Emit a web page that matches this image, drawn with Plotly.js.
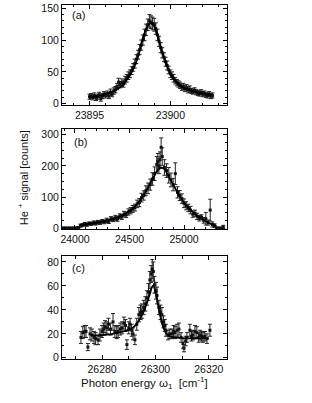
<!DOCTYPE html>
<html><head><meta charset="utf-8">
<script src="https://cdn.plot.ly/plotly-3.0.1.min.js"></script>
<style>html,body{margin:0;padding:0;background:#fff}#plot{width:312px;height:403px}</style>
</head><body><div id="plot"></div>
<script>
// Panel (a)
const aX = [23895.0,23895.1,23895.2,23895.3,23895.4,23895.5,23895.6,23895.7,23895.8,23895.9,
23896.0,23896.1,23896.2,23896.3,23896.4,23896.5,23896.6,23896.7,23896.8,23896.9,
23897.0,23897.1,23897.2,23897.3,23897.4,23897.5,23897.6,23897.7,23897.8,23897.9,
23898.0,23898.1,23898.2,23898.3,23898.4,23898.5,23898.6,23898.7,23898.8,23898.9,
23899.0,23899.1,23899.2,23899.3,23899.4,23899.5,23899.6,23899.7,23899.8,23899.9,
23900.0,23900.1,23900.2,23900.3,23900.4,23900.5,23900.6,23900.7,23900.8,23900.9,
23901.0,23901.1,23901.2,23901.3,23901.4,23901.5,23901.6,23901.7,23901.8,23901.9,
23902.0,23902.1,23902.2,23902.3,23902.4,23902.5,23902.6];
const aY = [11,12,10,13,9,11,14,8,12,15,
13,16,12,18,15,20,22,27,34,30,
33,31,37,40,44,47,52,57,63,70,
77,85,92,100,108,116,124,130,128,126,
124,118,108,98,88,80,73,66,60,53,
47,44,40,36,33,31,29,26,27,24,
25,22,23,20,19,21,18,17,16,18,
15,16,14,13,15,12,13];
const aErr = [4,4,4,4,4,4,4,4,4,4,
4,4,4,5,4,5,5,5,6,5,
6,5,6,6,6,6,6,6,7,7,
7,8,8,8,9,9,9,10,10,10,
10,9,9,8,8,8,7,7,7,6,
6,6,6,5,5,5,5,5,5,5,
5,5,5,4,4,4,4,4,4,4,
4,4,4,4,4,4,4];
const aFitX = [23895.0,23895.5,23896.0,23896.5,23897.0,23897.5,23897.75,23898.0,23898.25,23898.5,23898.75,23899.0,23899.25,23899.5,23899.75,23900.0,23900.25,23900.5,23900.75,23901.0,23901.5,23902.0,23902.5];
const aFitY = [10,12,15,20,28,45,57,74,98,117,127,122,103,80,62,47,38,31,26,23,19,16,14];

// Panel (b)
const bX = [23890,23910,23930,23950,23970,23990,24010,24030,
24050,24070,24090,24110,24130,24150,24170,24190,24210,24230,
24250,24270,24290,24310,24330,24350,24370,24390,24410,24430,
24450,24470,24490,24510,24530,24550,24570,24590,24610,24630,
24650,24670,24690,24710,24730,24750,
24760,24770,24780,24790,24800,
24820,24840,24860,24880,24900,24920,24940,24960,24980,25000,
25020,25040,25060,25080,25100,25120,25140,25160,25180,25200,
25220,25240,25260,25280,25300,25320,25340,25360];
const bY = [0,0,0,0,0,0,0,2,
8,10,13,11,15,14,17,16,19,18,
22,20,25,22,30,28,33,30,38,36,
45,43,52,56,62,66,78,82,98,105,
120,128,140,158,175,205,
215,200,220,260,230,
195,185,170,155,140,175,115,105,95,80,
72,65,58,45,48,38,32,35,25,30,
18,58,12,8,0,0,0,4];
const bErr = [3,3,3,3,3,3,3,3,
5,5,5,5,5,5,6,6,6,6,
6,6,7,7,7,7,8,8,8,8,
9,9,10,10,11,11,12,13,14,15,
16,17,18,20,22,25,
25,25,25,30,28,
25,22,25,22,20,35,18,16,15,14,
13,12,12,10,10,10,9,8,9,20,
8,35,8,6,3,3,3,5];
const bFitX = [24050,24100,24200,24300,24400,24450,24500,24550,24600,24650,24700,24750,24775,24800,24825,24850,24900,24950,25000,25050,25100,25150,25200,25250,25300];
const bFitY = [8,12,18,24,35,44,55,70,90,118,150,182,192,194,188,172,140,108,82,62,46,33,22,13,6];

// Panel (c)
const cX = [26272.1,26272.8,26273.5,26274.0,26274.7,26275.5,26276.2,26277.0,26277.6,26278.5,
26279.2,26280.0,26280.6,26281.1,26281.8,26282.4,26283.2,26284.1,26284.8,26285.5,
26286.0,26286.8,26287.5,26288.2,26288.8,26289.3,26290.0,26290.5,26291.1,26291.6,
26292.3,26293.0,26293.8,26294.4,26294.9,26295.6,26296.2,26296.8,26297.4,26297.9,
26298.4,26298.8,26299.2,26299.6,26300.2,26300.6,26301.3,26301.9,26302.4,26303.0,
26303.5,26303.9,26304.7,26305.4,26306.2,26306.8,26307.3,26308.1,26308.8,26309.6,
26310.3,26310.7,26311.3,26311.8,26312.9,26313.5,26314.0,26314.8,26315.5,26316.2,
26316.7,26317.3,26317.8,26318.5,26319.3,26320.4];
const cY = [17,21,22,22,9,20,19,17,16,15,
19,22,24,26,25,28,24,30,22,21,
22,24,25,29,27,11,25,28,23,20,
15,28,36,38,39,42,45,50,55,65,
70,74,72,61,56,52,42,38,36,30,
27,23,19,20,20,22,21,23,24,17,
12,8,14,17,23,18,19,22,21,17,
19,18,17,18,16,23];
const cErr = [5,5,5,5,3,5,5,5,5,4,
5,5,5,5,5,5,5,7,5,5,
5,5,5,5,5,4,5,5,5,5,
4,5,6,6,6,6,6,6,7,7,
7,8,8,7,7,7,6,6,6,5,
5,5,4,4,4,5,5,5,5,4,
4,3,4,4,5,4,4,5,5,4,
4,4,4,4,4,5];
const cFitX = [26276,26278,26280,26282,26284,26286,26288,26290,26292,26293,26294,26295,26296,26297,26298,26298.5,26299,26299.5,26300,26300.5,26301,26301.5,26302,26302.5,26303,26304,26305,26306,26308,26310,26314,26320];
const cFitY = [19,18.5,18.8,19.3,20,21,22,23.5,26,28.5,32,36,41,47,54,58,60,59,55,50,44,38,33,28.5,25,20.5,18.5,17.5,16.8,16.4,16.2,16.2];

const FONT = 'Liberation Sans, Arial, Helvetica, sans-serif';
function pts(x, y, e, xa, ya) {
  return {x: x, y: y, xaxis: xa, yaxis: ya, type: 'scatter', mode: 'markers',
    marker: {symbol: 'square', size: 3, color: '#111'},
    error_y: {type: 'data', array: e, visible: true, color: '#222', thickness: 1, width: 2},
    showlegend: false, hoverinfo: 'skip'};
}
function fit(x, y, xa, ya) {
  return {x: x, y: y, xaxis: xa, yaxis: ya, type: 'scatter', mode: 'lines',
    line: {color: '#000', width: 1.8, shape: 'spline', smoothing: 0.8},
    showlegend: false, hoverinfo: 'skip'};
}
const data = [
  pts(aX, aY, aErr, 'x', 'y'), fit(aFitX, aFitY, 'x', 'y'),
  pts(bX, bY, bErr, 'x2', 'y2'), fit(bFitX, bFitY, 'x2', 'y2'),
  pts(cX, cY, cErr, 'x3', 'y3'), fit(cFitX, cFitY, 'x3', 'y3')
];
function mn(dt, len) { return {ticks: 'inside', ticklen: len || 2, tickcolor: '#000', dtick: dt, showgrid: false}; }
function ax(extra) {
  return Object.assign({
    showline: true, linecolor: '#000', linewidth: 1, mirror: 'ticks',
    ticks: 'inside', ticklen: 4, tickwidth: 1, tickcolor: '#000',
    showgrid: false, zeroline: false, exponentformat: 'none', separatethousands: false,
    tickformat: 'd',
    tickfont: {family: FONT, size: 10.5, color: '#111'}
  }, extra);
}
const layout = {
  width: 312, height: 403,
  margin: {l: 62, r: 85, t: 5, b: 44},
  paper_bgcolor: '#fff', plot_bgcolor: '#fff',
  xaxis: ax({anchor: 'y', domain: [0, 1], range: [23893.3, 23903.5], tickvals: [23895, 23900], minor: mn(1)}),
  yaxis: ax({anchor: 'x', domain: [0.7175, 1], range: [-2, 155], dtick: 50, minor: mn(10)}),
  xaxis2: ax({anchor: 'y2', domain: [0, 1], range: [23881, 25394], dtick: 500, tick0: 24000, minor: mn(100)}),
  yaxis2: ax({anchor: 'x2', domain: [0.367, 0.65], range: [-3, 319], dtick: 100, minor: mn(25)}),
  xaxis3: ax({anchor: 'y3', domain: [0, 1], range: [26265, 26326.8], dtick: 20, tick0: 26280, minor: mn(10, 3)}),
  yaxis3: ax({anchor: 'x3', domain: [0, 0.291], range: [-1, 85], dtick: 20, minor: mn(10)}),
  annotations: [
    {text: '(a)', xref: 'x domain', yref: 'y domain', x: 0.05, y: 0.9, xanchor: 'left', yanchor: 'middle', showarrow: false, font: {family: FONT, size: 11, color: '#111'}},
    {text: '(b)', xref: 'x2 domain', yref: 'y2 domain', x: 0.06, y: 0.87, xanchor: 'left', yanchor: 'middle', showarrow: false, font: {family: FONT, size: 11, color: '#111'}},
    {text: '(c)', xref: 'x3 domain', yref: 'y3 domain', x: 0.05, y: 0.88, xanchor: 'left', yanchor: 'middle', showarrow: false, font: {family: FONT, size: 11, color: '#111'}},
    {text: 'He <sup>+</sup> signal [counts]', xref: 'paper', yref: 'paper', x: -0.236, y: 0.511, textangle: -90, xanchor: 'center', yanchor: 'middle', showarrow: false, font: {family: FONT, size: 11, color: '#111'}},
    {text: 'Photon energy ω<sub>1</sub>  [cm<sup>-1</sup>]', xref: 'paper', yref: 'paper', x: 0.503, y: -0.068, xanchor: 'center', yanchor: 'middle', showarrow: false, font: {family: FONT, size: 11.5, color: '#111'}}
  ]
};
Plotly.newPlot('plot', data, layout, {staticPlot: true, displayModeBar: false});
</script></body></html>
